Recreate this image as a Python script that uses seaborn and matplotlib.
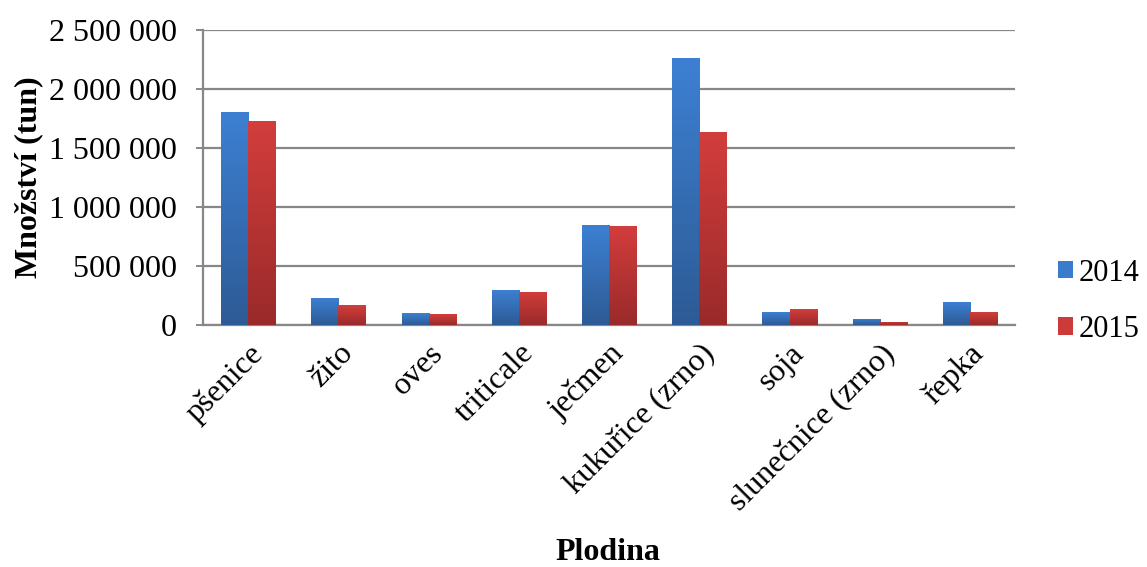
import numpy as np
import pandas as pd
import matplotlib
matplotlib.use("Agg")
import matplotlib.pyplot as plt
from matplotlib.colors import LinearSegmentedColormap
from matplotlib.ticker import FuncFormatter
import seaborn as sns

crops = ["pšenice", "žito", "oves", "triticale", "ječmen",
         "kukuřice (zrno)", "soja", "slunečnice (zrno)", "řepka"]
years = ["2014", "2015"]
values_2014 = [1809000, 231000, 101000, 299000, 845000, 2263000, 110000, 51000, 194000]
values_2015 = [1728000, 169000, 90000, 282000, 840000, 1635000, 132000, 28000, 107000]

df = pd.DataFrame({
    "Plodina": crops * 2,
    "Rok": [years[0]] * len(crops) + [years[1]] * len(crops),
    "Množství": values_2014 + values_2015,
})

sns.set_theme(style="white")
plt.rcParams["font.family"] = ["Liberation Serif", "DejaVu Serif"]
plt.rcParams["text.color"] = "black"

FS = 23
grid_col = "#878787"
palette = {"2014": "#3a7bcc", "2015": "#cc3b39"}
gradients = {
    "2014": ("#2d5b95", "#3d80d3"),
    "2015": ("#9a2a2a", "#d23e3c"),
}

fig = plt.figure(figsize=(11.47, 5.67), dpi=100)
ax = fig.add_axes([0.177, 0.427, 0.708, 0.520])

sns.barplot(data=df, x="Plodina", y="Množství", hue="Rok", hue_order=years,
            palette=palette, width=0.6, gap=0, ax=ax, zorder=3)

# vertical gradient fill clipped to each bar
grad = np.linspace(0, 1, 256).reshape(-1, 1)
for container, yr in zip(ax.containers, years):
    cmap = LinearSegmentedColormap.from_list(yr, gradients[yr])
    for patch in container.patches:
        x0, y0 = patch.get_x(), patch.get_y()
        w, h = patch.get_width(), patch.get_height()
        im = ax.imshow(grad, cmap=cmap, origin="lower", aspect="auto",
                       extent=[x0, x0 + w, y0, y0 + h], zorder=3.5)
        im.set_clip_path(patch)
        patch.set_edgecolor("none")

ax.set_xlim(-0.5, len(crops) - 0.5)
ax.set_ylim(0, 2500000)
ax.set_yticks(np.arange(0, 2500001, 500000))
ax.yaxis.set_major_formatter(FuncFormatter(lambda v, p: f"{int(v):,}".replace(",", " ")))

ax.grid(axis="y", color=grid_col, linewidth=1.6, zorder=0)
ax.set_axisbelow(True)
for side in ["top", "right"]:
    ax.spines[side].set_visible(False)
ax.spines["left"].set_color(grid_col)
ax.spines["left"].set_linewidth(1.6)
ax.spines["bottom"].set_color(grid_col)
ax.spines["bottom"].set_linewidth(1.6)

ax.tick_params(axis="y", which="major", left=True, length=5, width=1.4,
               color=grid_col, labelsize=FS, labelcolor="black", pad=14)
ax.tick_params(axis="x", bottom=False, labelsize=FS, labelcolor="black", pad=4)
for lbl in ax.get_xticklabels():
    lbl.set_rotation(45)
    lbl.set_ha("right")
    lbl.set_rotation_mode("anchor")

ax.set_xlabel("")
ax.set_ylabel("Množství (tun)", fontsize=FS, fontweight="bold", color="black")
ax.yaxis.set_label_coords(-0.197, 0.5)
fig.text(0.530, 1 - 553 / 567, "Plodina", fontsize=FS, fontweight="bold",
         ha="center", va="center", color="black")

leg = ax.legend(title=None, loc="center left", bbox_to_anchor=(1.026, 0.08),
                frameon=False, fontsize=22, handlelength=0.5, handleheight=0.5,
                handletextpad=0.2, labelspacing=0.9, borderpad=0.2)
for h, yr in zip(leg.legend_handles, years):
    h.set_facecolor(palette[yr])
    h.set_edgecolor("none")

fig.savefig("out.png", dpi=100)
